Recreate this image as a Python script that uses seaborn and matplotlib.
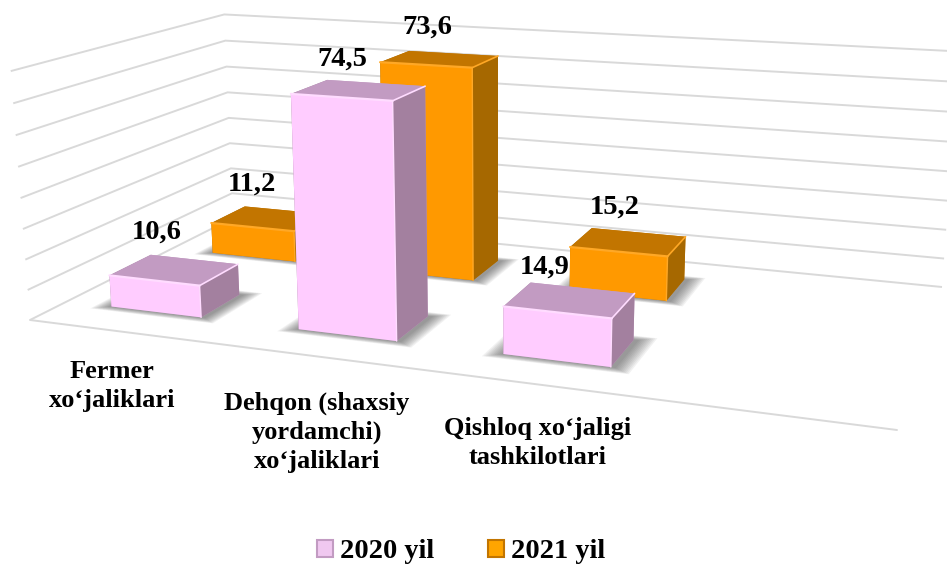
import numpy as np
import matplotlib
matplotlib.use("Agg")
import matplotlib.pyplot as plt
from matplotlib.patches import Patch
from mpl_toolkits.mplot3d.art3d import Poly3DCollection
import seaborn as sns

categories = ["Fermer\nxo\u2018jaliklari", "Dehqon (shaxsiy\nyordamchi)\nxo\u2018jaliklari", "Qishloq xo\u2018jaligi\ntashkilotlari"]
series_names = ["2020 yil", "2021 yil"]
values_2020 = [10.6, 74.5, 14.9]
values_2021 = [11.2, 73.6, 15.2]
grid_levels = [0, 10, 20, 30, 40, 50, 60, 70, 80]

W, H = 947, 565
sns.set_theme(style="white")
plt.rcParams["font.family"] = ["Liberation Serif", "DejaVu Serif"]

floor_world = np.array([[0, 0], [3, 0], [3, 2], [0, 2]], float)
floor_px = np.array([[30, 320], [897, 430], [942, 287], [233, 218]], float)
A = []
b = []
for (X, Y), (u, v) in zip(floor_world, floor_px):
    A.append([X, Y, 1, 0, 0, 0, -u * X, -u * Y]); b.append(u)
    A.append([0, 0, 0, X, Y, 1, -v * X, -v * Y]); b.append(v)
h = np.linalg.solve(np.array(A), np.array(b))
Hm = np.array([[h[0], h[1], h[2]], [h[3], h[4], h[5]], [h[6], h[7], 1.0]])

top_world = [(0, 0), (0, 2), (3, 2)]
top_px = [(10, 70), (225, 14), (959, 53)]
A = []
b = []
for (X, Y), (u, v) in zip(top_world, top_px):
    p = Hm @ np.array([X, Y, 1.0])
    A.append([80, 0, -u * 80]); b.append(u * p[2] - p[0])
    A.append([0, 80, -v * 80]); b.append(v * p[2] - p[1])
zc = np.linalg.lstsq(np.array(A), np.array(b), rcond=None)[0]
M = np.array([
    [Hm[0, 0], Hm[0, 1], zc[0], Hm[0, 2]],
    [Hm[1, 0], Hm[1, 1], zc[1], Hm[1, 2]],
    [Hm[2, 0] - 0.5 * Hm[2, 2], Hm[2, 1] + Hm[2, 2], -0.001, 3.0],
    [Hm[2, 0], Hm[2, 1], zc[2], Hm[2, 2]],
])

fig = plt.figure(figsize=(W / 100, H / 100), dpi=100, facecolor="white")
ax = fig.add_axes([0, 0, 1, 1], projection="3d", computed_zorder=False)
ax.set_proj_type("ortho")
ax.set_axis_off()
ax.set_autoscale_on(False)
ax.get_proj = lambda: M
ax.apply_aspect = lambda position=None: None
ax.viewLim.intervalx = (0, W)
ax.viewLim.intervaly = (H, 0)

grid_c = "#D9D9D9"
for z in grid_levels:
    ax.plot([0, 0, 3], [0, 2, 2], [z, z, z], color=grid_c, lw=1.4, zorder=1, solid_capstyle="butt")
ax.plot([0, 3], [0, 0], [0, 0], color=grid_c, lw=1.4, zorder=1)

x_start, pitch, bar_w = 0.187, 0.755, 0.37
sy = 0.31
rows = [(0, values_2020, ["#FFCCFF", "#C29BC2", "#A3809F", "#FFDCFF"], 6),
        (1, values_2021, ["#FF9900", "#C27500", "#A66800", "#FFA826"], 3)]
for row, vals, cols, zo in rows:
    front, top, side, hi = cols
    for i, v in enumerate(vals):
        x0, x1 = x_start + i * pitch, x_start + i * pitch + bar_w
        y0, y1 = row + sy, row + 1 - sy
        for k in range(10):
            e = 0.006 * (10 - k)
            sh = [[(x0 - e, y0 - e, 0), (x1 + 0.012 + e, y0 - e, 0), (x1 + 0.012 + e, y1 + e, 0), (x0 - e, y1 + e, 0)]]
            ax.add_collection3d(Poly3DCollection(sh, facecolors=(0.25, 0.25, 0.25, 0.07), edgecolors="none", zorder=zo - 1))
        ax.bar3d(x0, y0, 0, x1 - x0, y1 - y0, v, color=[top, top, front, top, side, side],
                 shade=False, edgecolor="none", zorder=zo + i * 0.1)
        ax.plot([x0, x1], [y0, y0], [v, v], color=hi, lw=1.6, zorder=zo + i * 0.1 + 0.01)
        ax.plot([x1, x1], [y0, y0], [0, v], color=hi, lw=1.0, zorder=zo + i * 0.1 + 0.01)
        ax.plot([x1, x1], [y0, y1], [v, v], color=hi, lw=1.2, zorder=zo + i * 0.1 + 0.01)

label_px_2020 = [(157, 232), (342, 59), (545, 267)]
label_px_2021 = [(252, 184), (427, 27), (615, 207)]
for vals, pos in ((values_2020, label_px_2020), (values_2021, label_px_2021)):
    for v, (px, py) in zip(vals, pos):
        ax.text2D(px, py, f"{v}".replace(".", ","), transform=ax.transData, ha="center", va="center",
                  fontsize=20.5, fontweight="bold", color="black", zorder=30)
cat_px = [(112, 386), (317, 432), (538, 443)]
for c, (px, py) in zip(categories, cat_px):
    ax.text2D(px, py, c, transform=ax.transData, ha="center", va="center", fontsize=19, fontweight="bold",
              color="black", linespacing=1.33, zorder=30)

handles = [Patch(facecolor="#F0C8F0", edgecolor="#C29BC2", lw=1.5, label=series_names[0]),
           Patch(facecolor="#FFA500", edgecolor="#C27500", lw=1.5, label=series_names[1])]
fig.legend(handles=handles, loc="center", bbox_to_anchor=(461 / W, 1 - 552 / H), ncols=2, frameon=False,
           prop={"size": 20.5, "weight": "bold"}, labelcolor="black", handlelength=0.56, handleheight=0.56,
           handletextpad=0.25, columnspacing=1.9, borderpad=0, borderaxespad=0)

fig.savefig("out.png", dpi=100, facecolor="white")
